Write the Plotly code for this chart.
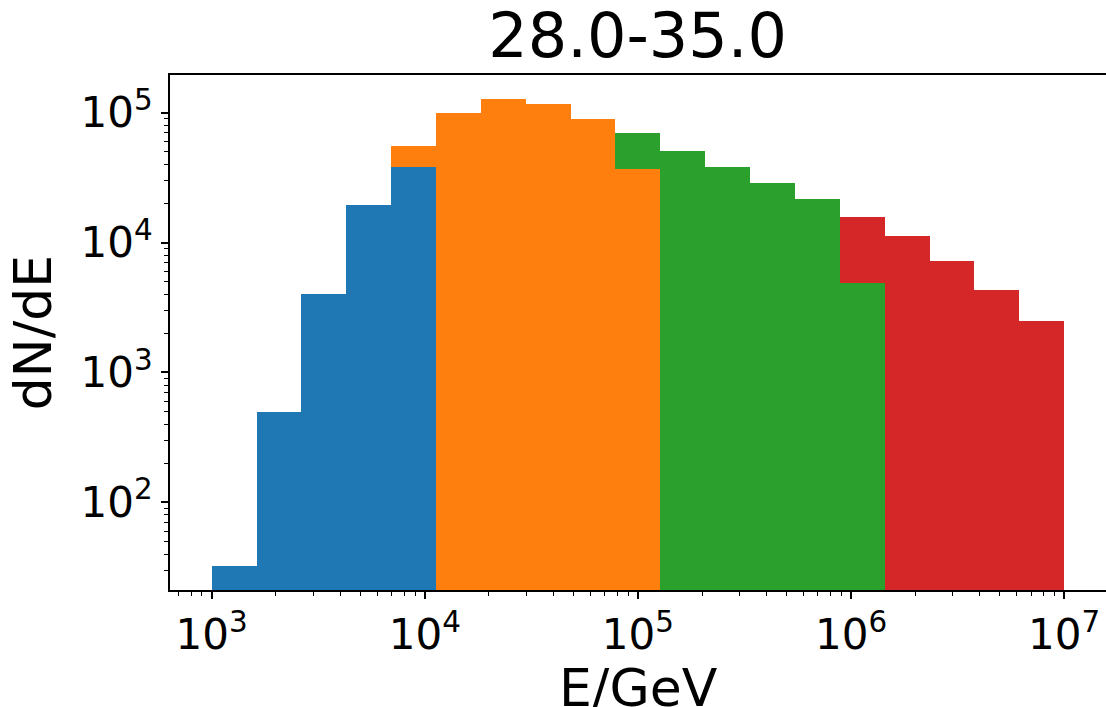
import numpy as np
import plotly.graph_objects as go

# Energy binning: 19 log-spaced bins from 1e3 to 1e7 GeV
edges = np.logspace(3, 7, 20)

# Stacked dN/dE contributions per bin (None = no contribution)
blue = [32.4, 492, 4020, 19550, 37900] + [None] * 14
orange = [None] * 4 + [17500, 100000, 126600, 115900, 89900, 37000] + [None] * 9
green = [None] * 9 + [32300, 51000, 37900, 28900, 21750, 4840] + [None] * 4
red = [None] * 14 + [10850, 11280, 7240, 4330, 2510]

series = [
    ("blue", blue, "#1f77b4"),
    ("orange", orange, "#ff7f0e"),
    ("green", green, "#2ca02c"),
    ("red", red, "#d62728"),
]

title_text = "28.0-35.0"
x_label = "E/GeV"
y_label = "dN/dE"
x_tick_exps = [3, 4, 5, 6, 7]
y_tick_exps = [2, 3, 4, 5]

# bars live in log10(E) space on the position axis
log_edges = np.log10(edges)
centers = 0.5 * (log_edges[:-1] + log_edges[1:])
widths = np.diff(log_edges)

fig = go.Figure()
for name, vals, color in series:
    fig.add_trace(go.Bar(
        x=centers, y=vals, width=widths, name=name,
        marker=dict(color=color, line=dict(width=0)),
        showlegend=False,
    ))

FONT = "DejaVu Sans"

x_minor = [np.log10(k * 10.0 ** n) for n in range(2, 8) for k in range(2, 10)]
y_minor = [k * 10.0 ** n for n in range(1, 6) for k in range(2, 10)]

fig.update_layout(
    width=1106, height=707,
    margin=dict(l=170, r=0, t=75, b=117, autoexpand=False),
    barmode="stack", bargap=0,
    plot_bgcolor="white", paper_bgcolor="white",
    font=dict(family=FONT, color="black"),
    title=dict(text=title_text, x=0.5765, xanchor="center",
               y=0.950, yanchor="middle", yref="container",
               font=dict(size=62, family=FONT, color="black")),
)

# x-axis label placed below the tick labels
fig.add_annotation(
    text=x_label, xref="paper", yref="paper", x=0.5, y=-0.190,
    xanchor="center", yanchor="middle", showarrow=False,
    font=dict(size=52, family=FONT, color="black"),
)

fig.update_xaxes(
    range=[2.8043, 7.1966], automargin=False,
    showgrid=False, zeroline=False,
    showline=True, linecolor="black", linewidth=1.7, mirror=True,
    ticks="outside", ticklen=7, tickwidth=1.7, tickcolor="black",
    tickmode="array", tickvals=x_tick_exps,
    ticktext=[f"10<sup>{e}</sup>" for e in x_tick_exps],
    tickfont=dict(size=42, family=FONT),
    minor=dict(tickmode="array", tickvals=x_minor, ticks="outside",
               ticklen=4, tickwidth=1.2, tickcolor="black", showgrid=False),
)

fig.update_yaxes(
    type="log", range=[1.325, 5.290], automargin=False,
    showgrid=False, zeroline=False,
    showline=True, linecolor="black", linewidth=1.7, mirror=True,
    ticks="outside", ticklen=7, tickwidth=1.7, tickcolor="black",
    tickmode="array", tickvals=[10.0 ** e for e in y_tick_exps],
    ticktext=[f"10<sup>{e}</sup>" for e in y_tick_exps],
    tickfont=dict(size=42, family=FONT),
    minor=dict(tickmode="array", tickvals=y_minor, ticks="outside",
               ticklen=4, tickwidth=1.2, tickcolor="black", showgrid=False),
    title=dict(text=y_label, font=dict(size=52, family=FONT), standoff=12),
)

fig.write_html("out.html")
